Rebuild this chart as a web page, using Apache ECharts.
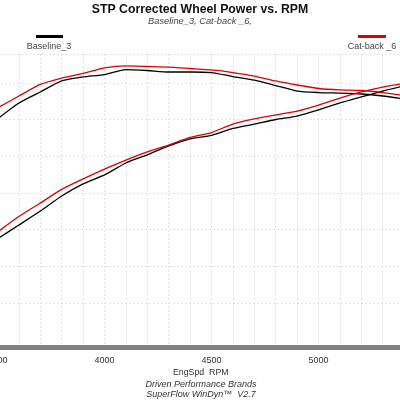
<!DOCTYPE html>
<html>
<head>
<meta charset="utf-8">
<script src="https://cdn.jsdelivr.net/npm/echarts@6/dist/echarts.min.js"></script>
<style>html,body{margin:0;padding:0;background:#fff}#c{width:400px;height:400px}</style>
</head>
<body>
<div id="c"></div>
<script>
const rpm = [3500,3600,3700,3800,3900,4000,4100,4200,4300,4400,4500,4600,4700,4800,4900,5000,5100,5200,5300,5400];
const baselineTorque = [120.3,129.0,135.0,141.0,143.2,144.5,147.2,146.7,145.9,145.9,145.6,143.4,141.5,138.5,135.5,134.7,134.4,133.9,132.8,131.2];
const catbackTorque  = [126.3,132.8,139.1,142.6,145.1,148.1,149.2,148.9,148.6,147.8,147.0,145.6,143.7,141.0,138.8,136.9,136.1,135.8,134.7,133.1];
const baselinePower  = [54.9,62.5,70.1,78.3,84.9,89.8,96.3,100.7,105.6,109.4,111.3,115.1,117.5,120.0,121.9,125.2,129.0,132.3,135.5,138.3];
const catbackPower   = [58.7,67.1,74.5,81.9,87.6,93.0,97.9,102.3,106.1,110.2,112.9,117.5,120.3,122.5,124.6,127.9,131.7,135.0,137.7,139.6];
const xLabels = [3500,4000,4500,5000];
const yGridLines = [20,40,60,80,100,120,140,155.7];
const seriesNames = ['Baseline_3','Cat-back _6'];
const colors = ['#000000','#e00000'];

const pair = (a) => rpm.map((r,i)=>[r,a[i]]);
const chart = echarts.init(document.getElementById('c'));
const font = '"Liberation Sans", Arial, sans-serif';
const gridCol = '#d9d9d9';
const lineSeries = (name, data, color, extra) => Object.assign({
  name, type:'line', data: pair(data), showSymbol:false, smooth:0.2, z:3,
  lineStyle:{color, width:1.3}, itemStyle:{color}, animation:false
}, extra||{});
chart.setOption({
  animation:false,
  title:{
    text:'STP Corrected Wheel Power vs. RPM',
    subtext:'Baseline_3, Cat-back _6,',
    left:'center', top:-1, itemGap:1,
    textStyle:{fontFamily:font, fontSize:12.3, fontWeight:'bold', color:'#111'},
    subtextStyle:{fontFamily:font, fontSize:9.3, fontStyle:'italic', color:'#444'}
  },
  grid:{left:-2.5, right:-4.1, top:54, bottom:53, containLabel:false, outerBoundsMode:'none'},
  xAxis:{
    type:'value', min:3500, max:5400, interval:100,
    name:'EngSpd  RPM', nameLocation:'middle', nameGap:21, nameMoveOverlap:false,
    nameTextStyle:{fontFamily:font, fontSize:8.8, color:'#333'},
    axisLine:{show:true, onZero:false, lineStyle:{color:'#808080', width:5}},
    axisTick:{show:false},
    axisLabel:{margin:9, fontFamily:font, fontSize:9, color:'#333', hideOverlap:false,
      formatter:(v)=> xLabels.includes(v) ? String(v) : ''},
    splitLine:{show:true, lineStyle:{color:gridCol, type:[1.5,2.5], width:1}}
  },
  yAxis:{
    type:'value', min:-4, max:155.7,
    axisLine:{show:false}, axisTick:{show:false}, axisLabel:{show:false},
    splitLine:{show:false}
  },
  graphic:[
    {type:'rect', shape:{x:36, y:35, width:27, height:3}, style:{fill:colors[0]}},
    {type:'text', style:{x:49, y:47, text:seriesNames[0], align:'center', verticalAlign:'middle', font:'9px '+font, fill:'#444'}},
    {type:'rect', shape:{x:358, y:35, width:28, height:3}, style:{fill:colors[1]}},
    {type:'text', style:{x:372, y:47, text:seriesNames[1], align:'center', verticalAlign:'middle', font:'9px '+font, fill:'#444'}},
    {type:'text', style:{x:201, y:384, text:'Driven Performance Brands', align:'center', verticalAlign:'middle', font:'italic 9px '+font, fill:'#333'}},
    {type:'text', style:{x:201, y:394, text:'SuperFlow WinDyn\u2122  V2.7', align:'center', verticalAlign:'middle', font:'italic 9px '+font, fill:'#333'}}
  ],
  series:[
    lineSeries(seriesNames[0]+' Torque', baselineTorque, colors[0], {
      markLine:{silent:true, symbol:'none', animation:false, label:{show:false}, z:1,
        lineStyle:{color:gridCol, type:[1.5,2.5], width:1},
        data: yGridLines.map(v=>({yAxis:v}))}
    }),
    lineSeries(seriesNames[0]+' Power', baselinePower, colors[0]),
    lineSeries(seriesNames[1]+' Torque', catbackTorque, colors[1]),
    lineSeries(seriesNames[1]+' Power', catbackPower, colors[1])
  ]
});
</script>
</body>
</html>
